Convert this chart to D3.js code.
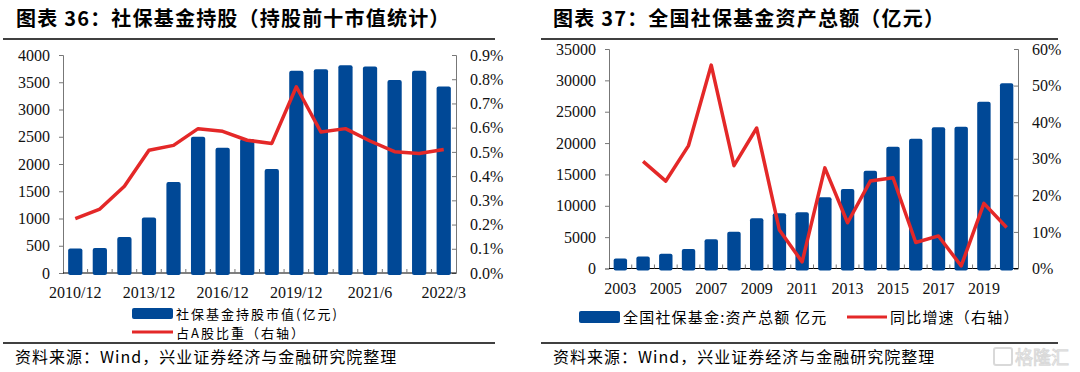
<!DOCTYPE html>
<html>
<head>
<meta charset="utf-8">
<script src="https://cdn.jsdelivr.net/npm/d3@7/dist/d3.min.js"></script>
<style>
  body { margin: 0; background: #fff; }
  text { font-family: "Liberation Serif", "Noto Sans CJK SC", serif; }
  .cn { font-family: "Noto Sans CJK SC", sans-serif; }
</style>
</head>
<body>
<script>
// left chart data
var leftCats = ["2010/12","2011/12","2012/12","2013/12","2014/12","2015/12","2016/12","2017/12",
                "2018/12","2019/12","2020/6","2020/12","2021/6","2021/9","2021/12","2022/3"];
var leftLabels = ["2010/12","2013/12","2016/12","2019/12","2021/6","2022/3"];
var leftValues = [450, 460, 660, 1020, 1670, 2500, 2300, 2460, 1910, 3710, 3740, 3810, 3790, 3540, 3710, 3420];
var leftShare = [0.224, 0.264, 0.358, 0.507, 0.527, 0.596, 0.585, 0.548, 0.535, 0.769, 0.582, 0.596, 0.545, 0.501, 0.493, 0.510];
var leftTicks = [0,500,1000,1500,2000,2500,3000,3500,4000];
var leftPctTicks = [0,0.1,0.2,0.3,0.4,0.5,0.6,0.7,0.8,0.9];

// right chart data
var rightCats = d3.range(2003, 2021).map(String);
var rightLabels = ["2003","2005","2007","2009","2011","2013","2015","2017","2019"];
var rightValues = [1600, 1900, 2360, 3110, 4650, 5870, 8000, 8800, 8960, 11350, 12680, 15600, 19420, 20700, 22520, 22620, 26600, 29530];
var rightGrowth = [null, 29.3, 23.9, 33.6, 55.6, 28.1, 38.4, 10.5, 1.8, 27.5, 12.5, 23.9, 24.8, 7.1, 8.9, 0.7, 17.8, 11.2];
var rightTicks = [0,5000,10000,15000,20000,25000,30000,35000];
var rightPctTicks = [0,10,20,30,40,50,60];

var blue = "#004896", red = "#E42828";
var serif = "Liberation Serif, serif";

var svg = d3.select("body").append("svg")
            .attr("width", 1080)
            .attr("height", 372);

function panel(o) {
  var g = svg.append("g");

  // title + rules
  g.append("text").attr("class","cn")
   .attr("x", o.titleX).attr("y", 26)
   .attr("font-size", 20).attr("font-weight", "bold").attr("letter-spacing", 1.2)
   .text(o.title);
  g.append("line").attr("x1", o.ruleX0).attr("x2", o.ruleX1)
   .attr("y1", 39).attr("y2", 39).attr("stroke", "#000").attr("stroke-width", 1.5);
  g.append("line").attr("x1", o.ruleX0).attr("x2", o.ruleX1)
   .attr("y1", 343).attr("y2", 343).attr("stroke", "#000").attr("stroke-width", 1.5);
  g.append("text").attr("class","cn")
   .attr("x", o.ruleX0 + 12).attr("y", 363)
   .attr("font-size", 16).attr("letter-spacing", 1)
   .text("资料来源：Wind，兴业证券经济与金融研究院整理");

  var x = d3.scaleBand().domain(o.cats).range([o.x0, o.x1]).paddingInner(o.pad).paddingOuter(o.pad / 2);
  var band = d3.scaleBand().domain(o.cats).range([o.x0, o.x1]);
  var y = d3.scaleLinear().domain([0, o.yMax]).range([o.y0, o.y1]);
  var y2 = d3.scaleLinear().domain([0, o.y2Max]).range([o.y0, o.y1]);

  // left axis
  var ya = g.append("g").attr("transform", "translate(" + o.x0 + ",0)")
            .call(d3.axisLeft(y).tickValues(o.yTicks).tickSize(4).tickPadding(9).tickFormat(d3.format("d")));
  ya.attr("font-family", serif).attr("font-size", 16);
  ya.select(".domain").attr("stroke", "#777");
  ya.selectAll(".tick line").attr("stroke", "#777");
  ya.selectAll("text").attr("fill", "#111");

  // right axis, ticks pointing inward
  var y2a = g.append("g").attr("transform", "translate(" + o.x1 + ",0)")
             .call(d3.axisRight(y2).tickValues(o.y2Ticks).tickSize(-4).tickPadding(14).tickFormat(o.y2Fmt));
  y2a.attr("font-family", serif).attr("font-size", 16);
  y2a.select(".domain").attr("stroke", "#777");
  y2a.selectAll(".tick line").attr("stroke", "#777");
  y2a.selectAll("text").attr("fill", "#111");

  // x axis: baseline with small inward ticks on band edges
  g.append("line").attr("x1", o.x0).attr("x2", o.x1).attr("y1", o.y0).attr("y2", o.y0)
   .attr("stroke", "#000").attr("stroke-width", 1);
  g.selectAll(".xt").data(o.cats.slice(1)).enter().append("line")
   .attr("x1", function(d){ return band(d); }).attr("x2", function(d){ return band(d); })
   .attr("y1", o.y0).attr("y2", o.y0 - 4).attr("stroke", "#777");
  g.selectAll(".xl").data(o.labels).enter().append("text")
   .attr("x", function(d){ return x(d) + x.bandwidth() / 2; })
   .attr("y", o.y0 + 25).attr("text-anchor", "middle")
   .attr("font-family", serif).attr("font-size", 16).attr("fill", "#111")
   .text(function(d){ return d; });

  // bars
  g.selectAll(".bar").data(o.values).enter().append("rect")
   .attr("x", function(d, i){ return x(o.cats[i]); })
   .attr("width", x.bandwidth())
   .attr("y", function(d){ return y(d); })
   .attr("height", function(d){ return o.y0 + 2 - y(d); })
   .attr("rx", 2)
   .attr("fill", blue);

  // line
  var line = d3.line()
               .defined(function(d){ return d != null; })
               .x(function(d, i){ return x(o.cats[i]) + x.bandwidth() / 2; })
               .y(function(d){ return y2(d); });
  g.append("path").datum(o.line)
   .attr("d", line)
   .attr("fill", "none").attr("stroke", red)
   .attr("stroke-width", 3.5).attr("stroke-linejoin", "round");

  return g;
}

var gl = panel({
  title: "图表 36：社保基金持股（持股前十市值统计）",
  titleX: 16, ruleX0: 3, ruleX1: 495,
  cats: leftCats, labels: leftLabels, values: leftValues, line: leftShare,
  x0: 63, x1: 456, y0: 273, y1: 55, pad: 0.42,
  yMax: 4000, yTicks: leftTicks,
  y2Max: 0.9, y2Ticks: leftPctTicks, y2Fmt: function(d){ return d.toFixed(1) + "%"; }
});

var gr = panel({
  title: "图表 37：全国社保基金资产总额（亿元）",
  titleX: 553, ruleX0: 541, ruleX1: 1058,
  cats: rightCats, labels: rightLabels, values: rightValues, line: rightGrowth,
  x0: 609, x1: 1018, y0: 268.5, y1: 49, pad: 0.41,
  yMax: 35000, yTicks: rightTicks,
  y2Max: 60, y2Ticks: rightPctTicks, y2Fmt: function(d){ return d + "%"; }
});

// legends
gl.append("rect").attr("x", 132).attr("y", 308).attr("width", 41).attr("height", 11).attr("rx", 2).attr("fill", blue);
gl.append("text").attr("class","cn").attr("x", 176).attr("y", 318.5).attr("font-size", 13).attr("letter-spacing", 2).text("社保基金持股市值(亿元)");
gl.append("line").attr("x1", 132).attr("x2", 173).attr("y1", 332).attr("y2", 332).attr("stroke", red).attr("stroke-width", 3);
gl.append("text").attr("class","cn").attr("x", 176).attr("y", 337.5).attr("font-size", 13).attr("letter-spacing", 2).text("占A股比重（右轴）");

gr.append("rect").attr("x", 579).attr("y", 311).attr("width", 41).attr("height", 12).attr("rx", 2).attr("fill", blue);
gr.append("text").attr("class","cn").attr("x", 623).attr("y", 322.5).attr("font-size", 15).attr("letter-spacing", 1.2).text("全国社保基金:资产总额 亿元");
gr.append("line").attr("x1", 847).attr("x2", 887).attr("y1", 317).attr("y2", 317).attr("stroke", red).attr("stroke-width", 3);
gr.append("text").attr("class","cn").attr("x", 890).attr("y", 322.5).attr("font-size", 15).attr("letter-spacing", 1.2).text("同比增速（右轴）");

// faint watermark
var wm = svg.append("g").attr("opacity", 0.55);
wm.append("rect").attr("x", 994).attr("y", 348).attr("width", 18).attr("height", 17).attr("rx", 2)
  .attr("fill", "none").attr("stroke", "#bbb").attr("stroke-width", 2);
wm.append("text").attr("class","cn").attr("x", 1015).attr("y", 364).attr("font-size", 18)
  .attr("fill", "#fff").attr("stroke", "#bbb").attr("stroke-width", 1).text("格隆汇");
</script>
</body>
</html>
